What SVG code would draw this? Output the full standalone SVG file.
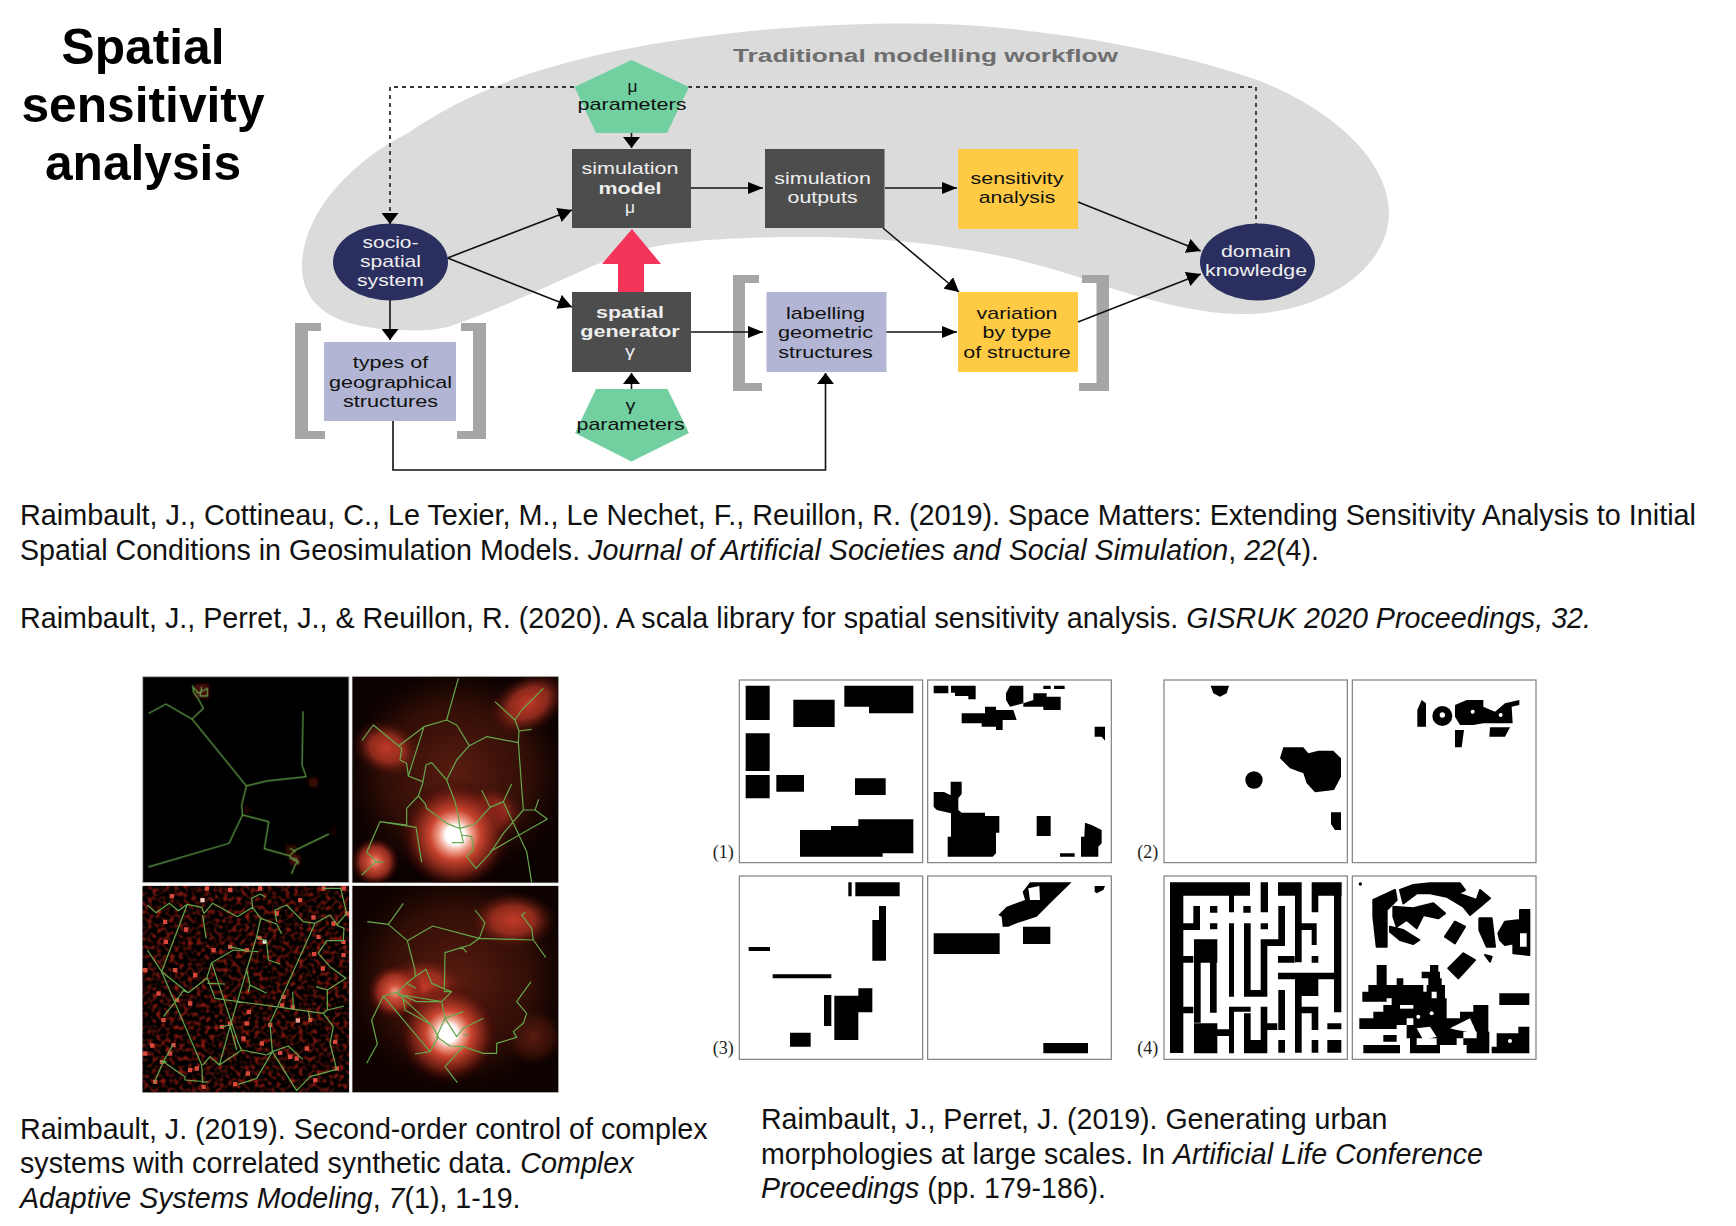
<svg xmlns="http://www.w3.org/2000/svg" width="1736" height="1226" viewBox="0 0 1736 1226">
<style>
text{font-family:"Liberation Sans",Arial,sans-serif}
.t{font-size:17px;text-anchor:middle;fill:#111}
.w{font-size:17px;text-anchor:middle;fill:#eee}
.b{font-weight:700}
.ref{font-size:28.7px;fill:#111}
.lab{font-family:"Liberation Serif",serif;font-size:54px;fill:#222}
.c{fill:none;stroke:#111;stroke-width:1.6}
.dot{fill:none;stroke:#333;stroke-width:1.8;stroke-dasharray:4 4}
.dark{fill:#4d4d4d}.yel{fill:#ffcb45}.lil{fill:#b2b6d4}.grn{fill:#72d0a0}.navy{fill:#2b2f5f}.brk{fill:#a6a6a6}
.net{fill:none;stroke:#66a84c;stroke-width:3.6;stroke-linejoin:round}
.frame{fill:#fff;stroke:#808080;stroke-width:3.6}
.ink{fill:#000;filter:url(#soft)}
.hole{fill:#fff}
</style>
<defs>
<marker id="mh" markerUnits="userSpaceOnUse" markerWidth="15" markerHeight="12" refX="15" refY="6" orient="auto"><path d="M0 0L15 6L0 12z" fill="#000"/></marker>
<marker id="mv" markerUnits="userSpaceOnUse" markerWidth="11" markerHeight="17" refX="11" refY="8.5" orient="auto"><path d="M0 0L11 8.5L0 17z" fill="#000"/></marker>
<marker id="md" markerUnits="userSpaceOnUse" markerWidth="14" markerHeight="15" refX="14" refY="7.5" orient="auto"><path d="M0 0L14 7.5L0 15z" fill="#000"/></marker>
<filter id="soft" x="-10%" y="-10%" width="120%" height="120%"><feGaussianBlur stdDeviation="1.8"/></filter>
<filter id="soft2" x="-30%" y="-30%" width="160%" height="160%"><feGaussianBlur stdDeviation="5"/></filter>
<filter id="noise" x="0" y="0" width="100%" height="100%" color-interpolation-filters="sRGB">
<feTurbulence type="fractalNoise" baseFrequency="0.075" numOctaves="1" seed="7"/>
<feColorMatrix type="matrix" values="1.6 0 0 0 -0.7  0.26 0 0 0 -0.11  0.18 0 0 0 -0.08  0 0 0 0 1"/>
</filter>
<radialGradient id="hot"><stop offset="0" stop-color="#fff"/><stop offset=".17" stop-color="#fff"/><stop offset=".3" stop-color="#eea08c"/><stop offset=".46" stop-color="#c9442f"/><stop offset=".72" stop-color="#7a2216" stop-opacity=".85"/><stop offset="1" stop-color="#300" stop-opacity="0"/></radialGradient>
<radialGradient id="warm"><stop offset="0" stop-color="#c23a28"/><stop offset=".5" stop-color="#a83222" stop-opacity=".8"/><stop offset="1" stop-color="#4a1007" stop-opacity="0"/></radialGradient>
<radialGradient id="mid"><stop offset="0" stop-color="#f0a08c"/><stop offset=".25" stop-color="#d0503a"/><stop offset=".6" stop-color="#a83222" stop-opacity=".85"/><stop offset="1" stop-color="#300" stop-opacity="0"/></radialGradient>
<radialGradient id="dim"><stop offset="0" stop-color="#5a1c10"/><stop offset=".65" stop-color="#3e1208" stop-opacity=".75"/><stop offset="1" stop-color="#2a0a05" stop-opacity="0"/></radialGradient>
<clipPath id="cb"><rect x="667" y="20" width="618" height="618"/></clipPath>
<clipPath id="cc"><rect x="38" y="648" width="619" height="619"/></clipPath>
<clipPath id="cd"><rect x="667" y="648" width="618" height="619"/></clipPath>
</defs>
<rect width="1736" height="1226" fill="#fff"/>

<g id="title" font-size="49.7" font-weight="700" text-anchor="middle" fill="#000">
<text x="143" y="63.500">Spatial</text>
<text x="143" y="122">sensitivity</text>
<text x="143" y="180">analysis</text>
</g>

<g id="workflow-region">
<path fill="#dbdbdb" d="M302 262C305 215 345 165 408 133C470 90 560 52 733 33C800 25 880 22 942 24C1050 28 1180 52 1257 80C1340 112 1389 165 1389 213C1389 270 1320 314 1243 314C1190 314 1130 295 1078 277C1000 250 900 237 811 237C730 237 660 240 612 258C570 275 510 305 459 323C440 331 420 331 400 330C340 328 300 310 302 262Z"/>
<text x="925.500" y="62" font-size="17.500" font-weight="700" fill="#6e6e6e" text-anchor="middle" textLength="385" lengthAdjust="spacingAndGlyphs">Traditional modelling workflow</text>
</g>

<g id="brackets" class="brk">
<path d="M295 323H321V331H308V431H325V439H295Z"/>
<path d="M486 323H461V331H473V431H457V439H486Z"/>
<path d="M733 275H759V283H745V383H762V391H733Z"/>
<path d="M1109 275H1082V283H1096.500V383H1079V391H1109Z"/>
</g>

<g id="connectors">
<path d="M618 292V264H602L632 229L661 264H644V292Z" fill="#f43459"/>
<path class="dot" d="M574 87H390V212"/>
<path class="dot" d="M688 87H1256V224"/>
<path class="c" d="M390 213V224" marker-end="url(#mv)"/>
<path class="c" d="M447.500 258L572 210" marker-end="url(#md)"/>
<path class="c" d="M447.500 258L572 307" marker-end="url(#md)"/>
<path class="c" d="M390 300V340" marker-end="url(#mv)"/>
<path class="c" d="M631.500 132V148" marker-end="url(#mv)"/>
<path class="c" d="M631.500 389V373" marker-end="url(#mv)"/>
<path class="c" d="M691 188H763" marker-end="url(#mh)"/>
<path class="c" d="M885 188H957" marker-end="url(#mh)"/>
<path class="c" d="M1078 202L1200.700 251" marker-end="url(#md)"/>
<path class="c" d="M883 228L959 292" marker-end="url(#md)"/>
<path class="c" d="M1078 322L1200.700 274" marker-end="url(#md)"/>
<path class="c" d="M691 332H763" marker-end="url(#mh)"/>
<path class="c" d="M885 332H957" marker-end="url(#mh)"/>
<path class="c" d="M393 421V470H825.500V373" marker-end="url(#mv)"/>
</g>

<g id="mu-parameters"><polygon class="grn" points="631.500,60 689,87 667,133 596,133 574.500,87"/>
<text class="t" x="632.500" y="92" textLength="10" lengthAdjust="spacingAndGlyphs">μ</text>
<text class="t" x="632" y="110.200" textLength="109" lengthAdjust="spacingAndGlyphs">parameters</text></g>

<g id="simulation-model"><rect class="dark" x="572" y="149" width="119" height="79"/>
<text class="w" x="630" y="173.500" textLength="97" lengthAdjust="spacingAndGlyphs">simulation</text>
<text class="w b" x="630" y="193.500" textLength="63" lengthAdjust="spacingAndGlyphs">model</text>
<text class="w" x="630" y="213" textLength="10" lengthAdjust="spacingAndGlyphs">μ</text></g>

<g id="simulation-outputs"><rect class="dark" x="765" y="149" width="119.500" height="79"/>
<text class="w" x="822.600" y="183.500" textLength="96.500" lengthAdjust="spacingAndGlyphs">simulation</text>
<text class="w" x="822.600" y="203" textLength="70" lengthAdjust="spacingAndGlyphs">outputs</text></g>

<g id="sensitivity-analysis"><rect class="yel" x="958" y="149" width="120" height="80"/>
<text class="t" x="1017" y="183.500" textLength="93" lengthAdjust="spacingAndGlyphs">sensitivity</text>
<text class="t" x="1017" y="203" textLength="76.600" lengthAdjust="spacingAndGlyphs">analysis</text></g>

<g id="socio-spatial-system"><ellipse class="navy" cx="390.500" cy="262" rx="57.500" ry="38.500"/>
<text class="w" x="390.500" y="247.500" textLength="56" lengthAdjust="spacingAndGlyphs">socio-</text>
<text class="w" x="390.500" y="267" textLength="61" lengthAdjust="spacingAndGlyphs">spatial</text>
<text class="w" x="390.500" y="286" textLength="67" lengthAdjust="spacingAndGlyphs">system</text></g>

<g id="domain-knowledge"><ellipse class="navy" cx="1257.500" cy="262" rx="57.500" ry="38.500"/>
<text class="w" x="1256" y="256.500" textLength="70" lengthAdjust="spacingAndGlyphs">domain</text>
<text class="w" x="1256" y="276" textLength="102" lengthAdjust="spacingAndGlyphs">knowledge</text></g>

<g id="spatial-generator"><rect class="dark" x="572" y="292" width="119" height="80"/>
<text class="w b" x="630" y="317.500" textLength="68" lengthAdjust="spacingAndGlyphs">spatial</text>
<text class="w b" x="630" y="337" textLength="99.500" lengthAdjust="spacingAndGlyphs">generator</text>
<text class="w" x="630" y="357" textLength="10" lengthAdjust="spacingAndGlyphs">γ</text></g>

<g id="types-of-structures"><rect class="lil" x="324" y="342" width="132" height="79"/>
<text class="t" x="390.500" y="368" textLength="75.500" lengthAdjust="spacingAndGlyphs">types of</text>
<text class="t" x="390.500" y="388" textLength="123" lengthAdjust="spacingAndGlyphs">geographical</text>
<text class="t" x="390.500" y="407" textLength="95" lengthAdjust="spacingAndGlyphs">structures</text></g>

<g id="labelling"><rect class="lil" x="766.500" y="292" width="120" height="80"/>
<text class="t" x="825.500" y="319" textLength="79" lengthAdjust="spacingAndGlyphs">labelling</text>
<text class="t" x="825.500" y="338" textLength="95" lengthAdjust="spacingAndGlyphs">geometric</text>
<text class="t" x="825.500" y="358" textLength="94.500" lengthAdjust="spacingAndGlyphs">structures</text></g>

<g id="variation"><rect class="yel" x="958" y="292" width="120" height="80"/>
<text class="t" x="1017" y="319" textLength="81" lengthAdjust="spacingAndGlyphs">variation</text>
<text class="t" x="1017" y="338" textLength="69" lengthAdjust="spacingAndGlyphs">by type</text>
<text class="t" x="1017" y="358" textLength="107.600" lengthAdjust="spacingAndGlyphs">of structure</text></g>

<g id="gamma-parameters"><polygon class="grn" points="631.500,461.500 689,433 667.500,389 596,389 575,433"/>
<text class="t" x="630.600" y="411" textLength="10" lengthAdjust="spacingAndGlyphs">γ</text>
<text class="t" x="630.600" y="430" textLength="108" lengthAdjust="spacingAndGlyphs">parameters</text></g>

<g id="references-top" class="ref">
<text x="20" y="525" textLength="1676" lengthAdjust="spacingAndGlyphs">Raimbault, J., Cottineau, C., Le Texier, M., Le Nechet, F., Reuillon, R. (2019). Space Matters: Extending Sensitivity Analysis to Initial</text>
<text x="20" y="560" textLength="1299" lengthAdjust="spacingAndGlyphs">Spatial Conditions in Geosimulation Models. <tspan font-style="italic">Journal of Artificial Societies and Social Simulation</tspan>, <tspan font-style="italic">22</tspan>(4).</text>
<text x="20" y="628" textLength="1571" lengthAdjust="spacingAndGlyphs">Raimbault, J., Perret, J., &amp; Reuillon, R. (2020). A scala library for spatial sensitivity analysis. <tspan font-style="italic">GISRUK 2020 Proceedings, 32.</tspan></text>
</g>

<g id="references-bottom" class="ref">
<text x="20" y="1138.500" textLength="687.500" lengthAdjust="spacingAndGlyphs">Raimbault, J. (2019). Second-order control of complex</text>
<text x="20" y="1173" textLength="613.500" lengthAdjust="spacingAndGlyphs">systems with correlated synthetic data. <tspan font-style="italic">Complex</tspan></text>
<text x="20" y="1208" textLength="500.500" lengthAdjust="spacingAndGlyphs"><tspan font-style="italic">Adaptive Systems Modeling</tspan>, <tspan font-style="italic">7</tspan>(1), 1-19.</text>
<text x="761" y="1129" textLength="626.500" lengthAdjust="spacingAndGlyphs">Raimbault, J., Perret, J. (2019). Generating urban</text>
<text x="761" y="1163.500" textLength="722" lengthAdjust="spacingAndGlyphs">morphologies at large scales. In <tspan font-style="italic">Artificial Life Conference</tspan></text>
<text x="761" y="1198" textLength="345" lengthAdjust="spacingAndGlyphs"><tspan font-style="italic">Proceedings</tspan> (pp. 179-186).</text>
</g>

<g id="network-panels" transform="translate(130 670) scale(.33333)">
<g fill="#000" stroke="#bbb" stroke-width="3">
<rect x="38" y="20" width="619" height="618"/><rect x="667" y="20" width="618" height="618"/>
<rect x="38" y="648" width="619" height="619"/><rect x="667" y="648" width="618" height="619"/>
</g>
<g id="panel-a">
<g fill="#4a1007" filter="url(#soft2)"><rect x="195" y="42" width="42" height="42"/><rect x="537" y="324" width="26" height="26" opacity=".8"/><rect x="468" y="525" width="30" height="30" opacity=".7"/><rect x="480" y="555" width="30" height="30"/><rect x="340" y="410" width="22" height="22" opacity=".4"/><rect x="600" y="475" width="22" height="20" opacity=".3"/></g>
<path class="net" d="M56 130L108 102L186 147L220 115L204 85L190 65L188 45M186 147L349 348L410 333L528 320L516 285L519 124M349 348L335 405L337 435L297 520L55 591M337 435L416 455L403 536L478 557L490 570L505 575L495 585L484 612M478 557L497 540L597 492M480 535L497 545M190 52L205 70L232 55L232 78L210 78L215 50M478 565L497 565L505 580"/>
</g>
<g id="panel-b" clip-path="url(#cb)">
<rect x="667" y="20" width="618" height="618" fill="#0a0100"/>
<ellipse cx="980" cy="310" rx="340" ry="320" fill="url(#dim)"/>
<ellipse cx="1195" cy="100" rx="125" ry="85" fill="url(#warm)" transform="rotate(-30 1195 100)"/>
<ellipse cx="770" cy="235" rx="105" ry="80" fill="url(#warm)" transform="rotate(20 770 235)"/>
<circle cx="735" cy="575" r="75" fill="url(#mid)"/>
<ellipse cx="1075" cy="430" rx="105" ry="80" fill="url(#warm)"/>
<circle cx="975" cy="495" r="165" fill="url(#hot)"/>
<path class="net" d="M985 25L950 150L882 170L806 228L730 165L696 211M950 150L980 165L1018 227L1070 200L1165 218L1167 183L1205 178M1167 183L1155 150L1095 95M1155 150L1175 120L1240 55M1018 227L980 270L950 330L905 278L888 285L878 340L865 378L830 415L830 465L750 455L710 547L738 575L695 615M738 575L760 577M882 170L835 318L878 335M806 228L815 235L810 270L830 280L835 318M865 378L885 400L890 415L950 460L975 470L990 475L1035 462L1080 412L1120 395L1145 342M1080 412L1055 360M950 330L975 395L985 440L990 475L995 495L1025 500L1030 540L1010 560L1038 595L1080 550L1120 490L1180 420L1215 420L1252 447L1080 545M1120 395L1190 545L1205 638M1215 420L1226 388M1180 420L1165 218M965 518L1000 518L995 495M750 455L858 472L875 577"/>
</g>
<g id="panel-c" clip-path="url(#cc)">
<rect x="38" y="648" width="619" height="619" fill="#000" filter="url(#noise)"/>
<g fill="#d8483a" filter="url(#soft)"><path d="M99 749h13v13h-13zM162 772h13v13h-13zM101 809h13v13h-13zM39 894h13v13h-13zM134 984h13v13h-13zM79 964h13v13h-13zM94 1044h13v13h-13zM344 834h13v13h-13zM382 797h13v13h-13zM434 724h13v13h-13zM544 736h13v13h-13zM634 809h13v13h-13zM546 846h13v13h-13zM572 889h13v13h-13zM634 849h13v13h-13zM644 724h13v13h-13zM534 1044h13v13h-13zM482 1006h13v13h-13zM414 1059h13v13h-13zM347 1204h13v13h-13zM309 1236h13v13h-13zM214 1244h13v13h-13zM124 1119h13v13h-13zM89 1169h13v13h-13zM344 1054h13v13h-13zM334 1099h13v13h-13zM294 1054h13v13h-13zM269 1064h13v13h-13zM389 1114h13v13h-13zM444 1142h13v13h-13zM474 1154h13v13h-13zM494 1159h13v13h-13zM174 1194h13v13h-13zM194 1189h13v13h-13zM224 649h13v13h-13zM119 672h13v13h-13zM294 654h13v13h-13zM384 649h13v13h-13zM504 684h13v13h-13zM574 649h13v13h-13zM634 649h13v13h-13zM454 974h13v13h-13zM114 1144h13v13h-13zM39 1144h13v13h-13zM609 1109h13v13h-13zM614 1189h13v13h-13zM549 1224h13v13h-13zM69 1229h13v13h-13zM524 1129h13v13h-13zM294 824h13v13h-13zM244 834h13v13h-13zM174 994h13v13h-13zM189 909h13v13h-13zM129 894h13v13h-13zM604 754h13v13h-13zM559 794h13v13h-13zM450 1000h13v13h-13zM350 1020h13v13h-13zM60 1120h13v13h-13z"/></g>
<rect x="211" y="684" width="13" height="13" fill="#f5c8c0"/><rect x="497" y="1045" width="13" height="13" fill="#f0a090"/><rect x="398" y="809" width="12" height="12" fill="#fff" filter="url(#soft)"/>
<path class="net" d="M52 705L78 728L118 700L145 722L172 703L215 712L222 730L248 700L322 740L368 712L365 685L390 672L405 680M368 712L392 745L440 762L455 792M392 745L380 800L350 900L300 1070L268 1185L240 1160L218 1185M172 703L95 905L215 1185L218 1240M95 905L52 840M95 905L175 968L230 925L245 878L310 840L385 845M175 968L160 962L140 990L100 1040M245 878L325 1120L335 1140M380 800L410 815L415 870L450 882M268 1185L335 1140L410 1155L427 1145L475 1128L518 1168M232 925L255 985L580 1030L592 1020L642 1008M592 1020L592 960L558 950M592 960L648 925L600 890L565 850L590 812L640 812L642 775L620 765L650 730L632 655L580 655M622 765L600 735L555 760L420 1060L427 1145L500 1262L540 1220L620 1198L600 1120L610 1070L580 1030M555 760L520 755L470 705L435 720L440 755M350 900L360 945L410 970M360 945L355 965M427 1145L380 1225L325 1243M100 1175L165 1220L165 1230L235 1236M100 1175L72 1240M100 1175L130 1122M90 1175L110 1175M270 1072L300 1065L320 1140M218 735L228 805M232 940L285 942M298 830L345 840M488 965L490 1015M535 1025L540 1050"/>
</g>
<g id="panel-d" clip-path="url(#cd)">
<rect x="667" y="648" width="618" height="619" fill="#0e0200"/>
<ellipse cx="980" cy="930" rx="340" ry="330" fill="url(#dim)"/>
<ellipse cx="1150" cy="750" rx="130" ry="85" fill="url(#warm)"/>
<ellipse cx="1210" cy="1100" rx="90" ry="85" fill="url(#dim)"/>
<ellipse cx="880" cy="950" rx="125" ry="90" fill="url(#warm)"/>
<circle cx="795" cy="965" r="85" fill="url(#mid)"/>
<circle cx="955" cy="1090" r="150" fill="url(#hot)"/>
<path class="net" d="M712 755L775 763L832 812L908 768L1048 805L1210 810L1247 862M1210 810L1205 775L1175 735L1187 727M775 763L820 700M1035 720L1065 758L1048 805L1020 825L945 848L943 965L965 965L935 995L818 975M995 830L1010 847M832 812L855 900L855 920L830 940L800 968L760 978L725 1050L742 1122L710 1180M855 920L888 898L905 940L963 965M760 978L900 1145M800 968L905 1065M818 975L825 1020L905 1065L925 1100L900 1145L855 1152M800 968L860 995L935 995L945 1045L920 1100L960 1128L1000 1130L1060 1150L1100 1150L1100 1120L1160 1102L1150 1085L1180 1060L1190 1030L1160 995L1203 935M1000 1130L945 1190L982 1238M945 1045L1000 1025M945 1045L980 1100L1000 1075L1060 1045M1000 1095L1015 1095M830 940L858 955"/>
</g>
</g>

<g id="morphologies-left" transform="translate(700 670) scale(.33333)">
<g class="frame"><rect x="118" y="30" width="550" height="548"/><rect x="683" y="30" width="551" height="548"/><rect x="118" y="618" width="550" height="550"/><rect x="683" y="618" width="551" height="550"/></g>
<g class="ink">
<path d="M137 47h72v103h-72zM137 190h72v113h-72zM137 315h72v70h-72zM229 315h83v50h-83zM280 89h124v82h-124zM433 47H640V130H507V110H433ZM465 325h92v50h-92zM300 480H393V468H475V448H640V550H548V560H300Z"/>
<path d="M701 47h44v23h-44zM753 47H827V88H805V78H765V68H753ZM930 47H970V100L930 110L918 90V70ZM1030 47h22v10h-22zM1062 47h32v10h-32zM970 100L1000 90V70H1040V80H1082V120H1030V110H970ZM785 130H855V110H888V120H940L950 150H908V180H888V170H845V160H785ZM1184 170H1215V212L1205 200H1184ZM752 335H785V372L775 385V420L785 428H855V438H898V488H888V550L878 560H743V500H753V430L710 420L701 410V366H732L752 376ZM1010 438h42v60h-42zM1080 550h44v10h-44zM1155 458L1175 465L1205 480V520L1195 530V560H1143V500H1153Z"/>
<path d="M445 637h10v42h-10zM466 637h133v42h-133zM537 708H558V872H517V750H537ZM146 831h64v12h-64zM218 913h176v12h-176zM372 975h22v93h-22zM403 977H475V955H517V1027H475V1110H403ZM270 1088h62v42h-62z"/>
<path fill-rule="evenodd" d="M990 637H1115L1060 690L1010 740L950 760L925 770H908L905 740L895 735L920 710L975 690L968 665ZM985 655L1018 648L1020 690L990 690ZM1184 648H1215L1210 660L1190 670L1184 665ZM969 770h82v52h-82zM701 790h198v62h-198zM1030 1119h134v31h-134z"/>
</g>
<text class="lab" x="38" y="565">(1)</text>
<text class="lab" x="38" y="1153">(3)</text>
</g>

<g id="morphologies-right" transform="translate(1130 670) scale(.33333)">
<g class="frame"><rect x="102" y="30" width="550" height="548"/><rect x="667" y="30" width="551" height="548"/><rect x="102" y="618" width="550" height="550"/><rect x="667" y="618" width="551" height="550"/></g>
<g class="ink">
<path d="M242 47H297L290 70L270 80L250 70ZM460 232H520L535 250L565 242H610L633 265V320L612 360L555 367L530 340L520 310L480 295L450 265ZM603 427H633V480H615L603 462Z"/>
<circle cx="372" cy="330" r="26"/>
<path d="M862 120L875 90L888 100V170H862ZM975 105L1010 90H1060V110L1095 125L1125 100L1168 90V105L1145 110L1148 160H1060L1030 165H990L975 140ZM1080 172H1140L1125 200H1078ZM975 180H1002L995 232H975Z"/>
<circle cx="937" cy="138" r="30"/>
<path d="M120 637h240v40h-240zM120 637h40v512h-40zM160 760h50v20h-50zM190 708h20v72h-20zM297 677h15v50h-15zM240 708h22v20h-22zM340 708h22v20h-22zM240 760h22v18h-22zM392 760h22v18h-22zM392 637h22v90h-22zM444 637h70v40h-70zM495 637h20v240h-20zM545 637h90v40h-90zM545 677h20v50h-20zM612 637h22v390h-22zM445 708h20v100h-20zM392 808h73v20h-73zM392 808h20v170h-20zM362 960h50v20h-50zM342 760h20v220h-20zM297 760h15v220h-15zM192 808h70v70h-70zM192 878h20v180h-20zM240 878h20v150h-20zM160 858h30v20h-30zM160 1010h30v20h-30zM192 1060h70v90h-70zM262 1078h35v20h-35zM312 1010h50v15h-50zM297 1010h15v140h-15zM342 1030h20v120h-20zM342 1110h70v40h-70zM392 1010h20v140h-20zM412 1060h30v20h-30zM445 960h20v120h-20zM444 858h50v20h-50zM444 908h170v20h-170zM495 928h70v50h-70zM495 978h20v170h-20zM515 1010h35v20h-35zM545 1010h20v70h-20zM515 760h45v20h-45zM545 760h15v65h-15zM545 858h20v20h-20zM592 1060h42v18h-42zM545 1110h20v38h-20zM445 1110h20v38h-20zM592 1110h42v38h-42z"/>
<circle cx="691" cy="642" r="5"/>
<path stroke="#000" stroke-width="6" stroke-linejoin="round" d="M730 690L795 660L800 690L770 720V830H740L730 740ZM810 660L850 645L900 640H990L1005 660L985 670L1040 690L1050 660L1080 685L1050 710L1020 735L1000 710L950 680L900 670H860L820 700ZM790 710L850 715L910 700L945 730L925 745L880 735L860 775L830 750L800 770L790 740ZM780 770L820 780L868 810L850 822L810 810L780 785ZM945 800L975 755L1005 770L975 820ZM1048 745H1085L1095 830H1070L1048 780ZM1105 790L1125 755L1170 750V720H1198V855L1150 850V820L1125 825L1110 810ZM955 895L1000 850L1035 870L985 925ZM1065 855L1085 860L1080 875Z"/>
<path d="M900 885h25v20h-25zM740 885h30v60h-30zM875 905h55v20h-55zM800 925h20v20h-20zM895 925h40v20h-40zM715 945h165v20h-165zM890 945h55v20h-55zM697 965h208v20h-208zM920 965h25v20h-25zM697 985h73v10h-73zM785 985h165v20h-165zM760 1005h190v20h-190zM1030 1005h45v20h-45zM730 1025h220v20h-220zM990 1025h85v20h-85zM688 1045h142v20h-142zM850 1045h225v20h-225zM688 1065h112v12h-112zM830 1065h180v20h-180zM1030 1065h45v20h-45zM830 1085h170v20h-170zM1040 1085h38v20h-38zM760 1095h40v20h-40zM840 1105h20v20h-20zM920 1105h60v20h-60zM1000 1105h78v20h-78zM700 1125h110v25h-110zM840 1125h90v25h-90zM1010 1125h68v25h-68zM1085 1130h113v20h-113zM1100 1090h98v40h-98zM1165 1070h33v20h-33zM1108 970h90v35h-90z"/>
</g>
<g class="hole"><circle cx="937" cy="135" r="8"/><circle cx="1028" cy="125" r="6"/><circle cx="1112" cy="135" r="6"/><rect x="810" y="1005" width="40" height="11"/><circle cx="1140" cy="1113" r="6"/><circle cx="865" cy="1040" r="6"/><circle cx="905" cy="1030" r="6"/><path d="M860 1075L900 1070L920 1100L880 1110ZM960 1075L1020 1045L1040 1090L980 1080ZM1170 790h20v40h-20z"/></g>
<text class="lab" x="22" y="565">(2)</text>
<text class="lab" x="22" y="1153">(4)</text>
</g>
</svg>
